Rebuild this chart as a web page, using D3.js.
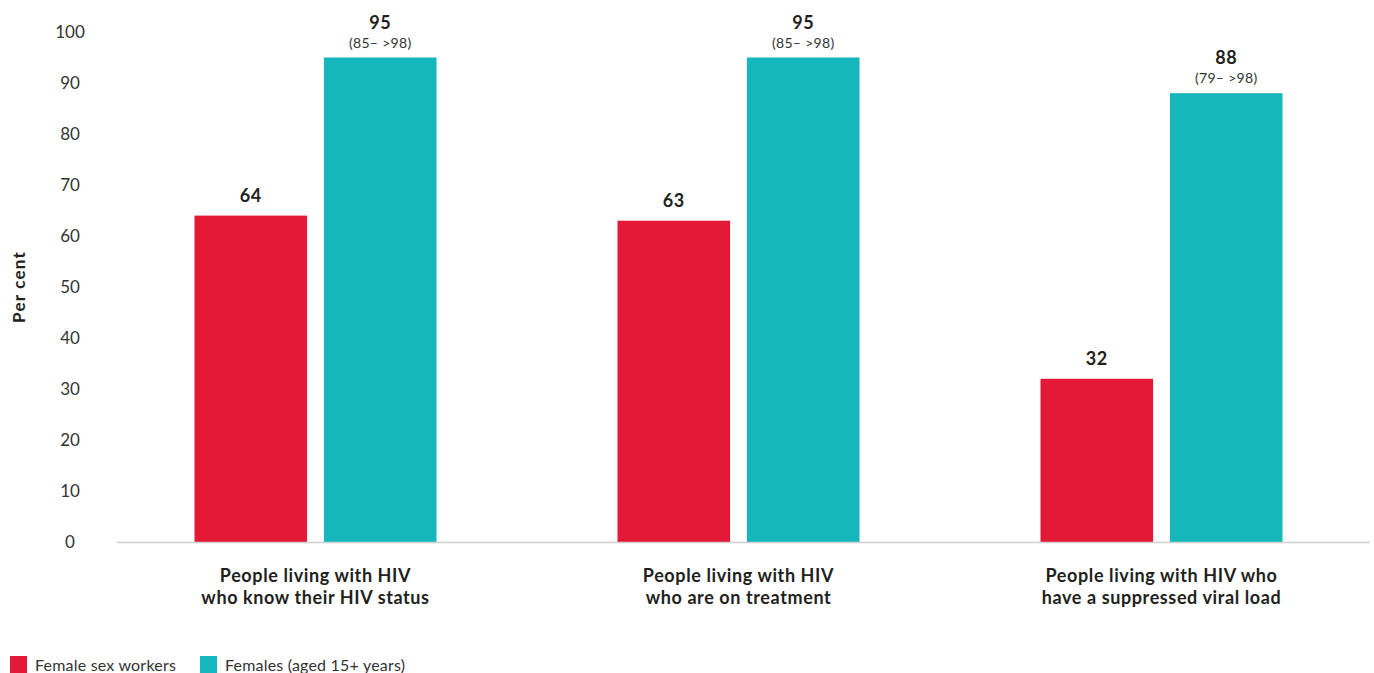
<!DOCTYPE html>
<html><head><meta charset="utf-8">
<script src="https://cdn.jsdelivr.net/npm/d3@7"></script>
<style>body{margin:0;background:#fff}svg{display:block}text{font-family:Lato,"Open Sans",sans-serif;fill:#231f20}</style>
</head><body>
<script>
const categories = [["People living with HIV","who know their HIV status"],["People living with HIV","who are on treatment"],["People living with HIV who","have a suppressed viral load"]];
const seriesNames = ["Female sex workers","Females (aged 15+ years)"];
const fswValues = [64, 63, 32];
const femaleValues = [95, 95, 88];
const femaleRanges = ["(85– >98)","(85– >98)","(79– >98)"];
const yTicks = [0,10,20,30,40,50,60,70,80,90,100];
const colors = ["#e31937","#15b7bc"];

const W=1374,H=673;
const svg=d3.select("body").append("svg").attr("width",W).attr("height",H);
const y=d3.scaleLinear().domain([0,100]).range([542,32]);
const x=d3.scaleBand().domain(d3.range(categories.length)).range([104,1373]).paddingInner(0).paddingOuter(0);
const xi=d3.scaleBand().domain([0,1]).range([-121,121]).paddingInner(0.13);

// y tick labels
svg.append("g").selectAll("text").data(yTicks).join("text")
  .attr("x",70).attr("y",d=>y(d)).attr("dy","0.35em").attr("text-anchor","middle")
  .attr("font-size",17).style("fill","#333").text(d=>d);

// axis title
svg.append("text").attr("transform","translate(25,287) rotate(-90)").attr("text-anchor","middle")
  .attr("font-size",17).attr("font-weight","bold").attr("letter-spacing",1.2).text("Per cent");

const series=[fswValues,femaleValues];
const g=svg.append("g");
series.forEach((vals,s)=>{
  g.selectAll(null).data(vals).join("rect")
    .attr("x",(d,i)=>x(i)+x.bandwidth()/2+xi(s)).attr("width",xi.bandwidth())
    .attr("y",d=>y(d)).attr("height",d=>y(0)-y(d)).attr("fill",colors[s]);
});
// axis line
svg.append("line").attr("x1",117).attr("x2",1370).attr("y1",y(0)+0.5).attr("y2",y(0)+0.5).attr("stroke","#cfcfcf").attr("stroke-width",1.5);

// value labels
g.selectAll(null).data(fswValues).join("text")
  .attr("x",(d,i)=>x(i)+x.bandwidth()/2+xi(0)+xi.bandwidth()/2).attr("y",d=>y(d)-14)
  .attr("text-anchor","middle").attr("font-size",18).attr("font-weight","bold").attr("letter-spacing",0.5).text(d=>d);
g.selectAll(null).data(femaleValues).join("text")
  .attr("x",(d,i)=>x(i)+x.bandwidth()/2+xi(1)+xi.bandwidth()/2).attr("y",d=>y(d)-29)
  .attr("text-anchor","middle").attr("font-size",18).attr("font-weight","bold").attr("letter-spacing",0.5).text(d=>d);
g.selectAll(null).data(femaleRanges).join("text")
  .attr("x",(d,i)=>x(i)+x.bandwidth()/2+xi(1)+xi.bandwidth()/2).attr("y",(d,i)=>y(femaleValues[i])-10)
  .attr("text-anchor","middle").attr("font-size",14).attr("letter-spacing",0.3).style("fill","#333").text(d=>d);

// category labels
const cl=svg.append("g").selectAll("text").data(categories).join("text")
  .attr("x",(d,i)=>x(i)+x.bandwidth()/2).attr("y",582).attr("text-anchor","middle")
  .attr("font-size",18).attr("font-weight","bold").attr("letter-spacing",0.6);
cl.selectAll("tspan").data(d=>d).join("tspan").attr("x",function(){return this.parentNode.getAttribute("x");})
  .attr("dy",(d,i)=>i?22:0).text(d=>d);

// legend
const legX=[10,200];
const lg=svg.append("g").selectAll("g").data(seriesNames).join("g").attr("transform",(d,i)=>`translate(${legX[i]},656)`);
lg.append("rect").attr("width",17).attr("height",17).attr("fill",(d,i)=>colors[i]);
lg.append("text").attr("x",25).attr("y",9).attr("dy","0.35em").attr("font-size",16).attr("letter-spacing",0.2).style("fill","#333").text(d=>d);
</script>
</body></html>
